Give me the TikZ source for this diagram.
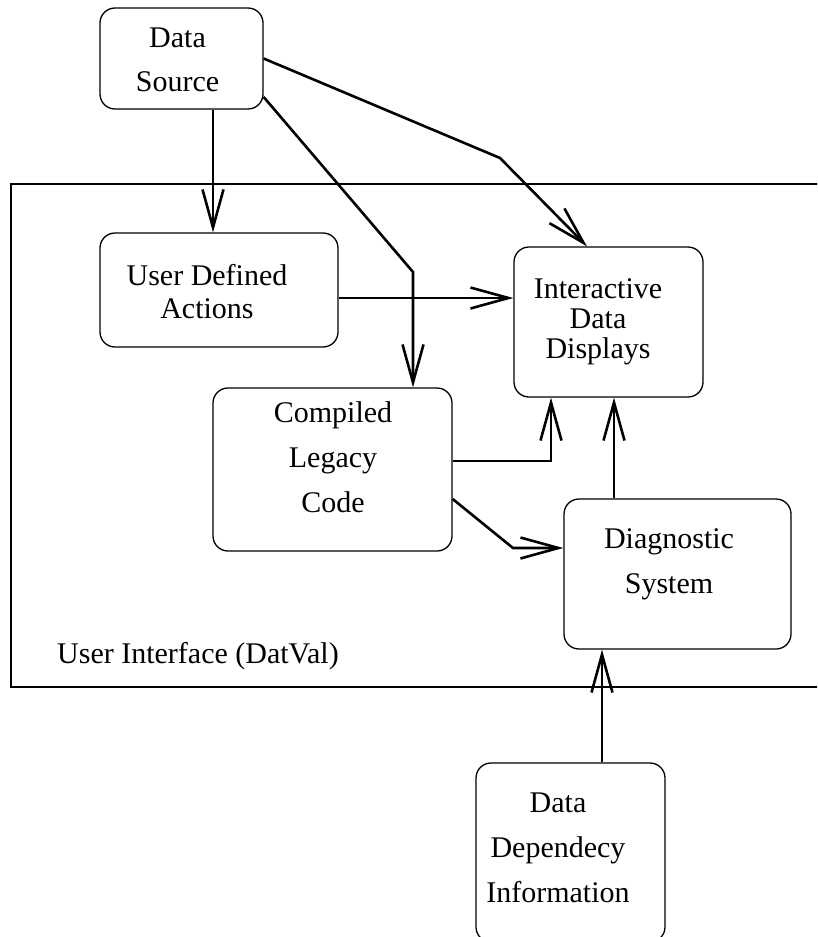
\documentclass[tikz,border=0pt]{standalone}
\usepackage{fontspec}
\setmainfont{Liberation Serif}
\usetikzlibrary{arrows.meta}
\begin{document}
\begin{tikzpicture}[x=1pt,y=-1pt,
  box/.style={draw, line width=1.3pt, rounded corners=15pt, fill=white, inner sep=0pt},
  frame/.style={draw, line width=1.3pt, inner sep=0pt},
  txt/.style={inner sep=0pt, anchor=base, align=center},
  conn/.style={line width=2.6pt, -{Straight Barb[length=38pt,width=21pt,line width=2.6pt]}},
  plain/.style={line width=2.6pt}]
\useasboundingbox (0,0) rectangle (817,937);
\clip (0,0) rectangle (817,937);
\fill[white] (0,0) rectangle (817,937);
% enclosing frame
\node[frame, minimum width=829pt, minimum height=503pt] (ui) at (425.5,435.5) {};
\node[inner sep=0pt, anchor=base west, font=\fontsize{30}{36}\selectfont] (uilabel) at (57,663) {User Interface (DatVal)};
% boxes
\node[box, minimum width=163pt, minimum height=101pt] (ds) at (181.5,58.5) {};
\node[box, minimum width=238pt, minimum height=114pt] (uda) at (219,290) {};
\node[box, minimum width=189pt, minimum height=150pt] (idd) at (608.5,322) {};
\node[box, minimum width=239pt, minimum height=163pt] (clc) at (332.5,469.5) {};
\node[box, minimum width=227pt, minimum height=150pt] (diag) at (677.5,574) {};
\node[box, minimum width=189pt, minimum height=179pt] (ddi) at (570.5,852.5) {};
% texts (base anchor = baseline of the last line)
\node[txt, font=\fontsize{30}{44}\selectfont] (ds-t) at (177.5,91) {Data\\Source};
\node[txt, font=\fontsize{30}{33}\selectfont] (uda-t) at (207,318) {User Defined\\Actions};
\node[txt, font=\fontsize{30}{30}\selectfont] (idd-t) at (598,358) {Interactive\\Data\\Displays};
\node[txt, font=\fontsize{30}{45}\selectfont] (clc-t) at (333,512) {Compiled\\Legacy\\Code};
\node[txt, font=\fontsize{30}{45}\selectfont] (diag-t) at (669,593) {Diagnostic\\System};
\node[txt, font=\fontsize{30}{45}\selectfont] (ddi-t) at (558,902) {Data\\Dependecy\\Information};
% bend points
\coordinate (b1) at (500,158);
\coordinate (b2) at (413,272);
\coordinate (b3) at (513,548);
% connectors
\draw[conn] ([xshift=31.5pt]ds.south) -- ([xshift=-6pt]uda.north);
\draw[conn] (ds.east) -- (b1) -- ([xshift=-21.5pt]idd.north);
\draw[conn] ([yshift=-38.5pt]ds.east) -- (b2) -- ([xshift=80.5pt]clc.north);
\draw[conn] ([yshift=-8pt]uda.east) -- ([yshift=-8pt]uda.east -| idd.west);
\draw[conn] ([yshift=8.5pt]clc.east) -| ([xshift=-57.5pt]idd.south);
\draw[conn] ([yshift=-29.5pt]clc.east) -- (b3) -- ([yshift=26pt]diag.west);
\draw[conn] ([xshift=-63.5pt]diag.north) -- ([xshift=5.5pt]idd.south);
\draw[conn] ([xshift=31.5pt]ddi.north) -- ([xshift=-75.5pt]diag.south);
\end{tikzpicture}
\end{document}
